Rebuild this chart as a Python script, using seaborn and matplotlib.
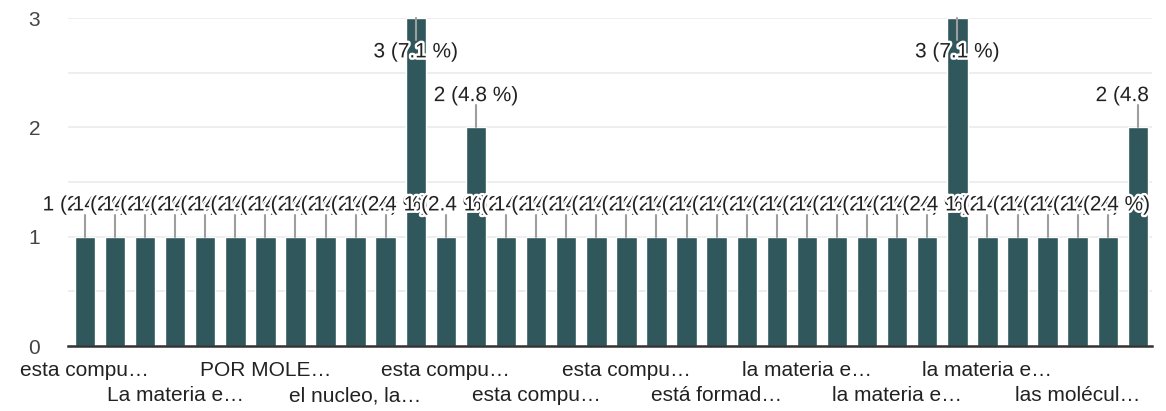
import seaborn as sns
import matplotlib.pyplot as plt
import matplotlib.patheffects as pe
from matplotlib.transforms import Bbox, TransformedBbox
import pandas as pd

# respuestas (42 en total), una barra por respuesta distinta
labels = ["esta compu…", "la materia e…", "la materia e…", "La materia e…", "esta compu…", "la materia e…",
          "POR MOLE…", "la materia e…", "esta compu…", "el nucleo, la…", "la materia e…", "esta compu…",
          "esta compu…", "la materia e…", "esta compu…", "esta compu…", "la materia e…", "esta compu…",
          "esta compu…", "la materia e…", "la materia e…", "está formad…", "esta compu…", "la materia e…",
          "la materia e…", "esta compu…", "la materia e…", "la materia e…", "esta compu…", "la materia e…",
          "la materia e…", "las molécul…", "la materia e…", "las molécul…", "la materia e…", "las molécul…"]
counts = [1, 1, 1, 1, 1, 1, 1, 1, 1, 1, 1, 3,
          1, 2, 1, 1, 1, 1, 1, 1, 1, 1, 1, 1,
          1, 1, 1, 1, 1, 3, 1, 1, 1, 1, 1, 2]
total = 42

df = pd.DataFrame({"pos": range(len(counts)), "label": labels, "n": counts})

sns.set_style("white")
plt.rcParams['font.family'] = ['Liberation Sans', 'DejaVu Sans']

fig = plt.figure(figsize=(11.66, 4.11), dpi=100)
ax = fig.add_axes([68 / 1166, 65 / 411, (1152 - 68) / 1166, (346 - 18) / 411])

sns.barplot(data=df, x="pos", y="n", color="#30575C", saturation=1, width=0.68, ax=ax)

ymax = 3
ax.set_ylim(0, ymax)
ax.set_xlim(-0.56, len(counts) - 0.53)
ax.set_yticks([0, 1, 2, 3])
ax.set_yticks([0.5, 1.5, 2.5], minor=True)
ax.grid(axis="y", which="both", color="#ebebeb", linewidth=1.2)
ax.set_axisbelow(True)
for s in ["top", "right", "left"]:
    ax.spines[s].set_visible(False)
ax.spines["bottom"].set_color("#333333")
ax.spines["bottom"].set_linewidth(1.8)
ax.tick_params(axis="y", which="both", length=0, labelsize=15, labelcolor="#444444", pad=20)
ax.tick_params(axis="x", length=0, labelsize=15, labelcolor="#222222", pad=11)

shown = list(range(0, len(labels), 3))
ax.set_xticks(shown)
ax.set_xticklabels([("\n" if i % 2 else "") + labels[p] for i, p in enumerate(shown)])
for t in ax.get_xticklabels():
    t.set_linespacing(1.4)
    t.set_verticalalignment("top")
ax.set_xlabel("")
ax.set_ylabel("")

clip = TransformedBbox(Bbox([[0, 0], [1152 / 1166, 1]]), fig.transFigure)
for i, v in enumerate(counts):
    pct = v / total * 100
    txt = f"{v} ({pct:.1f} %)"
    if v + 0.3 > ymax:
        ty, l0, l1 = v - 0.31, v, v - 0.2
    else:
        ty, l0, l1 = v + 0.29, v, v + 0.2
    ax.plot([i, i], [l0, l1], color="#9e9e9e", linewidth=1.5, clip_on=False, zorder=4)
    t = ax.text(i, ty, txt, ha="center", va="center", fontsize=15, color="#222222", zorder=5,
                path_effects=[pe.withStroke(linewidth=3.5, foreground="white")])
    t.set_clip_box(clip)
    t.set_clip_on(True)

fig.savefig("out.png", dpi=100)
